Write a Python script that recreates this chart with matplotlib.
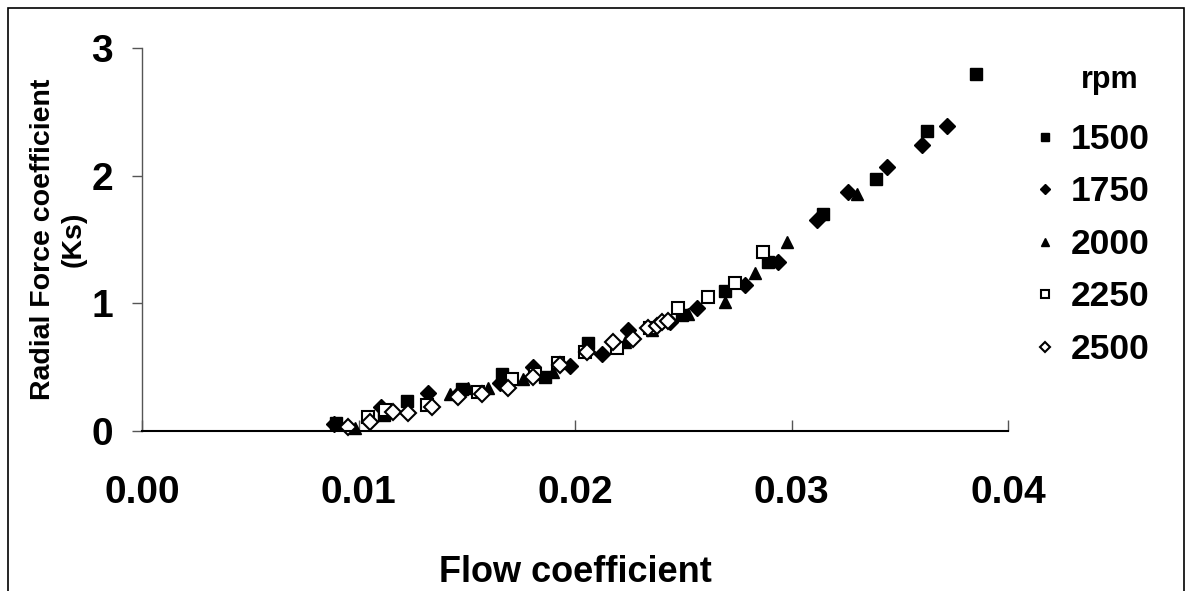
import matplotlib
matplotlib.use("Agg")
import matplotlib.pyplot as plt
from matplotlib.patches import Rectangle

plt.rcParams['font.family'] = ['Liberation Sans', 'DejaVu Sans']
plt.rcParams['font.weight'] = 'bold'

# ---- data ----
x_1500 = [0.00896, 0.01118, 0.01224, 0.01478, 0.01663, 0.01860, 0.02060, 0.02494,
          0.02693, 0.02891, 0.03145, 0.03390, 0.03626, 0.03852]
y_1500 = [0.063, 0.125, 0.235, 0.33, 0.45, 0.42, 0.69, 0.91,
          1.10, 1.32, 1.70, 1.97, 2.35, 2.80]

x_1750 = [0.00887, 0.01104, 0.01321, 0.01460, 0.01654, 0.01806, 0.01977, 0.02125,
          0.02245, 0.02439, 0.02564, 0.02785, 0.02938, 0.03118, 0.03261, 0.03441,
          0.03603, 0.03718]
y_1750 = [0.055, 0.19, 0.30, 0.29, 0.375, 0.50, 0.51, 0.60,
          0.79, 0.85, 0.96, 1.14, 1.32, 1.65, 1.87, 2.07,
          2.24, 2.39]

x_2000 = [0.00984, 0.01423, 0.01506, 0.01598, 0.01760, 0.01898, 0.02231, 0.02356,
          0.02522, 0.02693, 0.02831, 0.02979, 0.03303]
y_2000 = [0.02, 0.29, 0.34, 0.34, 0.41, 0.46, 0.70, 0.79,
          0.92, 1.01, 1.24, 1.48, 1.86]

x_2250 = [0.01044, 0.01122, 0.01316, 0.01552, 0.01709, 0.01815, 0.01922, 0.02046,
          0.02194, 0.02346, 0.02476, 0.02614, 0.02739, 0.02868]
y_2250 = [0.11, 0.165, 0.20, 0.305, 0.41, 0.45, 0.53, 0.62,
          0.65, 0.81, 0.96, 1.05, 1.16, 1.40]

x_2500 = [0.00952, 0.01053, 0.01159, 0.01229, 0.01340, 0.01460, 0.01570, 0.01690,
          0.01806, 0.01931, 0.02055, 0.02176, 0.02268, 0.02337, 0.02379, 0.02402,
          0.02430]
y_2500 = [0.03, 0.07, 0.15, 0.14, 0.19, 0.27, 0.29, 0.34,
          0.42, 0.52, 0.62, 0.70, 0.72, 0.81, 0.82, 0.85,
          0.86]

series_labels = ['1500', '1750', '2000', '2250', '2500']
x_ticks = [0.00, 0.01, 0.02, 0.03, 0.04]
x_ticklabels = ['0.00', '0.01', '0.02', '0.03', '0.04']
y_ticks = [0, 1, 2, 3]

# ---- figure ----
W, H = 1186, 591
fig = plt.figure(figsize=(W / 100, H / 100), dpi=100)
ax = fig.add_axes([142 / W, 1 - 431 / H, (1008 - 142) / W, (431 - 48) / H])

styles = [
    dict(marker='s', ms=8, mfc='black', mec='black'),
    dict(marker='D', ms=7.8, mfc='black', mec='black'),
    dict(marker='^', ms=9, mfc='black', mec='black'),
    dict(marker='s', ms=8, mfc='white', mec='black', mew=1.5),
    dict(marker='D', ms=7.8, mfc='white', mec='black', mew=1.5),
]
xs = [x_1500, x_1750, x_2000, x_2250, x_2500]
ys = [y_1500, y_1750, y_2000, y_2250, y_2500]
for xv, yv, lab, st in zip(xs, ys, series_labels, styles):
    ax.plot(xv, yv, linestyle='none', label=lab, clip_on=False, **st)

ax.set_xlim(0, 0.04)
ax.set_ylim(0, 3)
ax.set_xticks(x_ticks)
ax.set_xticklabels(x_ticklabels)
ax.set_yticks(y_ticks)

for s in ['top', 'right']:
    ax.spines[s].set_visible(False)
ax.spines['bottom'].set_linewidth(1.5)
ax.spines['bottom'].set_color('black')
ax.spines['left'].set_linewidth(1.0)
ax.spines['left'].set_color('#555555')

ax.tick_params(axis='x', direction='in', length=8, width=1, color='#555555',
               labelsize=28, pad=32)
ax.tick_params(axis='y', direction='out', length=7, width=1, color='#555555',
               labelsize=28, pad=14)
for lbl in ax.get_xticklabels() + ax.get_yticklabels():
    lbl.set_fontweight('bold')

ax.set_xlabel('Flow coefficient', fontsize=26, fontweight='bold', va='baseline')
ax.xaxis.set_label_coords(0.5, (431 - 582) / (431 - 48))
ax.set_ylabel('Radial Force coefficient\n(Ks)', fontsize=20.5, fontweight='bold',
              labelpad=3, linespacing=1.24)

leg = ax.legend(loc='upper left', bbox_to_anchor=(1035 / W, 1 - 123 / H),
                bbox_transform=fig.transFigure, frameon=False,
                prop={'size': 25.5, 'weight': 'bold'}, markerscale=0.7,
                handlelength=0.55, handletextpad=0.45, labelspacing=0.55,
                borderpad=0, borderaxespad=0)
fig.text(1110 / W, 1 - 80 / H, 'rpm', ha='center', va='center',
         fontsize=22, fontweight='bold')

fig.add_artist(Rectangle((8 / W, -0.05), (1184 - 8) / W, 1.05 - 8 / H,
                         transform=fig.transFigure, fill=False,
                         edgecolor='black', linewidth=1.2))

fig.savefig('out.png', dpi=100)
